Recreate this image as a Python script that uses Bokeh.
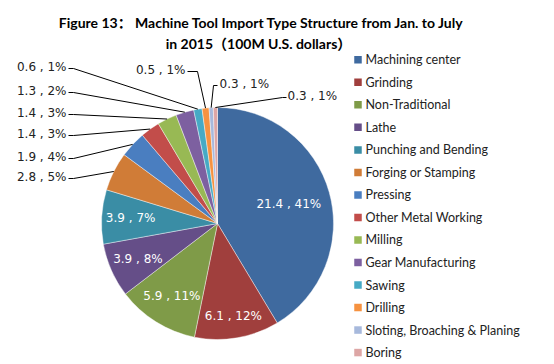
import numpy as np
from bokeh.plotting import figure
from bokeh.models import ColumnDataSource, Range1d
from bokeh.core.properties import value
from bokeh.embed import file_html
from bokeh.resources import INLINE

# ---------------- data ----------------
categories = ["Machining center", "Grinding", "Non-Traditional", "Lathe",
              "Punching and Bending", "Forging or Stamping", "Pressing",
              "Other Metal Working", "Milling", "Gear Manufacturing", "Sawing",
              "Drilling", "Sloting, Broaching & Planing", "Boring"]
values = [21.4, 6.1, 5.9, 3.9, 3.9, 2.8, 1.9, 1.4, 1.4, 1.3, 0.6, 0.5, 0.3, 0.3]
percents = [41, 12, 11, 8, 7, 5, 4, 3, 3, 2, 1, 1, 1, 1]
colors = ["#3F6A9F", "#A03F3D", "#7F9B48", "#654E88", "#3A8DA5", "#D07C37",
          "#4A7EC0", "#C24D4A", "#98B954", "#7D60A0", "#46AAC5", "#F69240",
          "#A7B9DC", "#DDA6A5"]
title_lines = ["Figure 13\uff1a Machine Tool Import Type Structure from Jan. to July",
               "in 2015\uff08100M U.S. dollars\uff09"]

# ---------------- layout ----------------
W, H = 554, 364
REF_H = 364


def Y(ry):
    return REF_H - ry


CX, CY, R = 217.0, Y(223), 116.0
FONT_LBL = value("DejaVu Sans")
FONT_LEG = value("Lato")
FONT_TTL = value("Lato, 'Noto Sans CJK SC'")

p = figure(width=W, height=H, x_range=Range1d(0, W), y_range=Range1d(0, H),
           output_backend="svg", toolbar_location=None, min_border=0)
p.axis.visible = False
p.grid.visible = False
p.outline_line_color = None
p.background_fill_color = "white"
p.border_fill_color = "white"

vals = np.array(values, dtype=float)
frac = vals / vals.sum()
cum_end = np.cumsum(frac)
cum_start = cum_end - frac
start_ang = np.pi / 2 - 2 * np.pi * cum_start
end_ang = np.pi / 2 - 2 * np.pi * cum_end
mid = 2 * np.pi * (cum_start + cum_end) / 2  # clockwise from 12 o'clock

src = ColumnDataSource(dict(start=start_ang, end=end_ang, color=colors, cat=categories))
p.wedge(x=CX, y=CY, radius=R, start_angle="start", end_angle="end", direction="clock",
        fill_color="color", line_color="white", line_width=0.6, line_alpha=0.7, source=src)

labels = [f"{v:g} , {pc}%" for v, pc in zip(values, percents)]

# inside labels (first five slices)
inner_r = [74, 94, 86, 87, 87]
ix = [CX + rr * np.sin(mid[i]) for i, rr in enumerate(inner_r)]
iy = [CY + rr * np.cos(mid[i]) for i, rr in enumerate(inner_r)]
p.text(x=ix, y=iy, text=labels[:5], text_color="white", text_font=FONT_LBL,
       text_font_size="12px", text_align="center", text_baseline="middle")

# edge points of the small slices
ex = CX + R * np.sin(mid)
ey = CY + R * np.cos(mid)

# left column labels (slices 5..10)
left_y = [176, 156, 133, 112, 90, 66]
lx, ly, lt = [], [], []
xs, ys = [], []
for k, i in enumerate(range(5, 11)):
    yy = Y(left_y[k])
    lx.append(66); ly.append(yy); lt.append(labels[i])
    xs.append([68, 73, ex[i]]); ys.append([yy - 2, yy - 2, ey[i]])
p.text(x=lx, y=ly, text=lt, text_color="#222222", text_font=FONT_LBL,
       text_font_size="12px", text_align="right", text_baseline="middle")

# Drilling
yd = Y(69)
p.text(x=[185], y=[yd], text=[labels[11]], text_color="#222222", text_font=FONT_LBL,
       text_font_size="12px", text_align="right", text_baseline="middle")
xs.append([187, 197, ex[11]]); ys.append([yd - 2, yd - 2, ey[11]])
# Sloting
ys_ = Y(83)
p.text(x=[219], y=[ys_], text=[labels[12]], text_color="#222222", text_font=FONT_LBL,
       text_font_size="12px", text_align="left", text_baseline="middle")
xs.append([217, 213, ex[12]]); ys.append([ys_ - 2, ys_ - 2, ey[12]])
# Boring
yb = Y(95)
p.text(x=[287], y=[yb], text=[labels[13]], text_color="#222222", text_font=FONT_LBL,
       text_font_size="12px", text_align="left", text_baseline="middle")
xs.append([286, 282, ex[13]]); ys.append([yb - 2, yb - 2, ey[13]])

p.multi_line(xs=xs, ys=ys, line_color="black", line_width=1)

# legend
leg_y = [Y(59.3 + 22.52 * i) for i in range(len(categories))]
p.rect(x=[357.5] * len(categories), y=leg_y, width=7.5, height=7.5,
       fill_color=colors, line_color=None)
p.text(x=[365] * len(categories), y=leg_y, text=categories, text_color="#222222",
       text_font=FONT_LEG, text_font_size="12.5px", text_align="left",
       text_baseline="middle")

# title
p.text(x=[261, 258], y=[Y(22), Y(43)], text=title_lines, text_color="black",
       text_font=FONT_TTL, text_font_size="14px", text_font_style="bold",
       text_align="center", text_baseline="middle")

open("out.html", "w").write(file_html(p, INLINE))
